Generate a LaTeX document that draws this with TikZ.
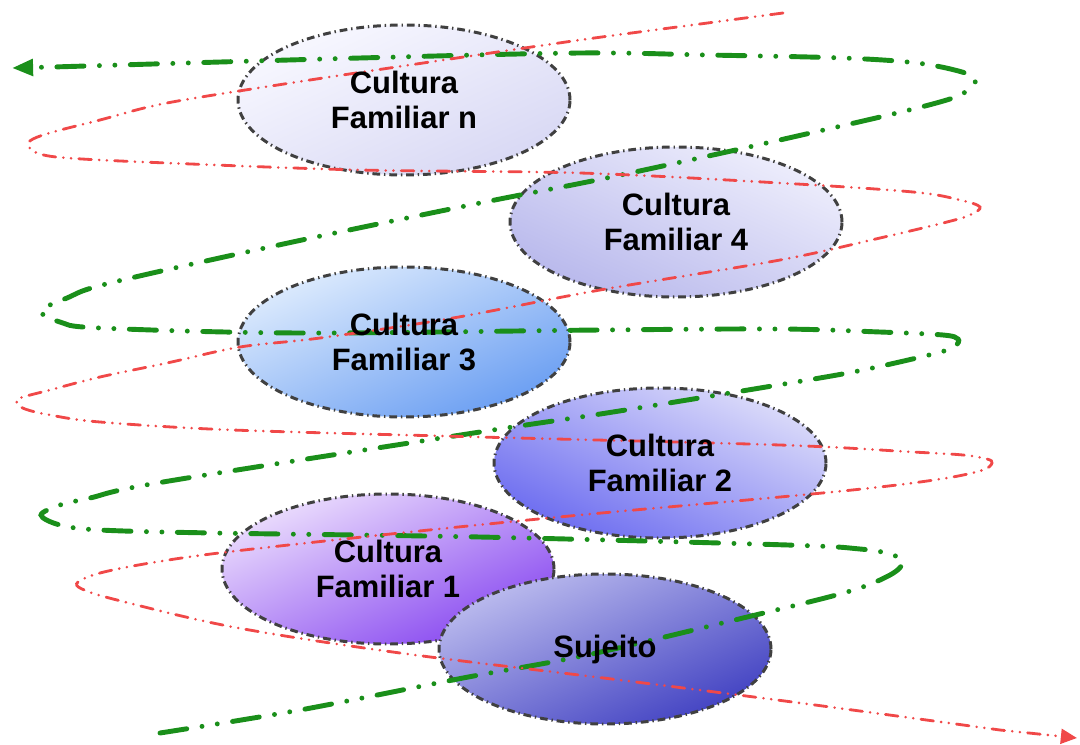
\documentclass[tikz,border=0pt]{standalone}
\usepackage{fontspec}
\setmainfont{Liberation Sans}
\usetikzlibrary{arrows.meta,shapes.geometric}
\definecolor{rim}{HTML}{404040}
\definecolor{helixgreen}{HTML}{1A8F1A}
\definecolor{helixred}{HTML}{F04848}
\definecolor{fnlight}{HTML}{F8F8FF}
\definecolor{fndark}{HTML}{D8D8F4}
\definecolor{ffourlight}{HTML}{EEEEFC}
\definecolor{ffourdark}{HTML}{B8B8EC}
\definecolor{fthreelight}{HTML}{DDEBFD}
\definecolor{fthreedark}{HTML}{6A9EF2}
\definecolor{ftwolight}{HTML}{DCDCFA}
\definecolor{ftwodark}{HTML}{6C6CF0}
\definecolor{fonelight}{HTML}{EBDDFD}
\definecolor{fonedark}{HTML}{8848F0}
\definecolor{sujlight}{HTML}{BCBCEE}
\definecolor{sujdark}{HTML}{4242C2}

\begin{document}
\begin{tikzpicture}[
  cult/.style={ellipse, draw=rim, line width=0.85pt,
    dash pattern=on 2.2pt off 1.1pt on 0.4pt off 1.1pt,
    minimum width=3.32cm, minimum height=1.5cm, inner sep=0pt},
  lbl/.style={font=\fontsize{8.8}{10}\selectfont\bfseries, align=center},
  helixg/.style={draw=helixgreen, line width=1.4pt, line cap=round,
    dash pattern=on 7.7pt off 4.4pt on 0pt off 4.4pt on 0pt off 4.4pt},
  helixr/.style={draw=helixred, line width=0.8pt, line cap=round,
    dash pattern=on 3.6pt off 2.2pt on 0pt off 2.2pt on 0pt off 2.2pt},
]
\useasboundingbox (0,0) rectangle (10.8,7.44);
% family cultures, top to bottom
\node[cult, top color=fnlight, bottom color=fndark, shading angle=24] (cfn) at (4.04,6.44) {};
\node[cult, top color=ffourlight, bottom color=ffourdark, shading angle=-24] (cf4) at (6.76,5.22) {};
\node[cult, top color=fthreelight, bottom color=fthreedark, shading angle=24] (cf3) at (4.04,4.02) {};
\node[cult, top color=ftwolight, bottom color=ftwodark, shading angle=-24] (cf2) at (6.60,2.81) {};
\node[cult, top color=fonelight, bottom color=fonedark, shading angle=24] (cf1) at (3.88,1.75) {};
\node[cult, top color=sujlight, bottom color=sujdark, shading angle=24] (suj) at (6.05,0.95) {};
% green spiral (bottom -> top)
\draw[helixg, -{Triangle[length=6pt,width=4.6pt]}] plot[smooth, tension=0.55] coordinates {
  (1.60,0.11) (3.00,0.34) (4.63,0.66) (5.87,0.89) (7.43,1.26) (8.47,1.52) (8.90,1.69)
  (9.03,1.82) (8.90,1.90) (8.60,1.95) (7.88,1.99) (4.80,2.07) (2.13,2.11) (1.00,2.14)
  (0.60,2.19) (0.41,2.29) (0.60,2.39) (0.90,2.46) (1.63,2.62) (4.80,3.12) (6.13,3.32)
  (7.90,3.61) (8.63,3.74) (9.37,3.91) (9.55,3.98) (9.58,4.05) (9.43,4.09) (8.80,4.12)
  (7.80,4.15) (6.00,4.14) (3.00,4.11) (1.00,4.16) (0.60,4.22) (0.41,4.33) (0.67,4.46)
  (1.10,4.61) (2.88,5.01) (4.80,5.41) (5.97,5.64) (7.13,5.89) (7.93,6.07) (8.97,6.31)
  (9.53,6.46) (9.70,6.56) (9.75,6.64) (9.62,6.72) (9.17,6.81) (8.43,6.86) (7.07,6.89)
  (5.80,6.91) (3.60,6.86) (0.53,6.77)} -- (0.12,6.76);
% red spiral (top -> bottom)
\draw[helixr, -{Triangle[length=4.6pt,width=4.2pt]}] plot[smooth, tension=0.55] coordinates {
  (7.83,7.31) (7.00,7.20) (5.80,7.04) (4.30,6.82) (2.97,6.62) (1.67,6.41) (1.00,6.24)
  (0.53,6.12) (0.33,6.05) (0.28,5.99) (0.37,5.91) (0.67,5.86) (1.67,5.81) (3.60,5.74)
  (5.80,5.71) (7.80,5.61) (9.13,5.52) (9.60,5.44) (9.80,5.37) (9.70,5.29) (9.47,5.22)
  (8.80,5.06) (7.80,4.84) (6.00,4.54) (4.53,4.26) (3.20,4.06) (2.40,3.97) (1.67,3.81)
  (1.00,3.67) (0.50,3.54) (0.20,3.46) (0.17,3.41) (0.25,3.35) (0.50,3.29) (1.00,3.22)
  (2.33,3.14) (4.80,3.07) (7.80,2.99) (9.13,2.92) (9.63,2.89) (9.87,2.85) (9.92,2.81)
  (9.83,2.74) (9.47,2.66) (8.80,2.57) (7.80,2.47) (5.80,2.29) (4.00,2.11) (2.27,1.92)
  (1.50,1.81) (1.00,1.71) (0.78,1.62) (0.82,1.55) (1.17,1.44) (2.33,1.17) (4.00,0.91)
  (6.20,0.64) (8.00,0.41) (10.00,0.14)} -- (10.77,0.06);
% labels
\node[lbl] (tn) at (cfn) {Cultura\\Familiar n};
\node[lbl] (t4) at (cf4) {Cultura\\Familiar 4};
\node[lbl] (t3) at (cf3) {Cultura\\Familiar 3};
\node[lbl] (t2) at (cf2) {Cultura\\Familiar 2};
\node[lbl] (t1) at (cf1) {Cultura\\Familiar 1};
\node[lbl] (ts) at (suj) {Sujeito};
\end{tikzpicture}
\end{document}
